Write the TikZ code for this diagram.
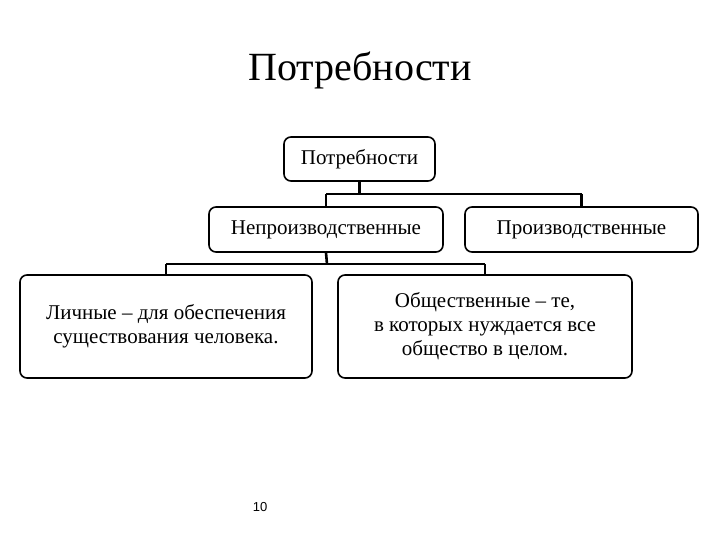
\documentclass[tikz,border=0pt]{standalone}
\usepackage{fontspec}
\setmainfont{Liberation Serif}
\newfontfamily\sansf{Liberation Sans}
\begin{document}
\begin{tikzpicture}[x=1pt,y=-1pt,
  bx/.style={draw,line width=1.6pt,rounded corners=7pt,align=center,font=\fontsize{21}{24}\selectfont,inner sep=0pt},
  ln/.style={line width=2.6pt}]
\useasboundingbox (0,0) rectangle (720,540);
\node[font=\fontsize{40}{44}\selectfont] (t) at (360,70) {Потребности};
\node[bx,minimum width=151pt,minimum height=44pt] (a) at (359.5,159) {Потребности};
\node[bx,minimum width=234pt,minimum height=45pt] (b) at (326,229.5) {Непроизводственные};
\node[bx,minimum width=233pt,minimum height=45pt] (c) at (581.5,229.5) {Производственные};
\node[bx,minimum width=292pt,minimum height=103pt] (d) at (166,326.5) {Личные -- для обеспечения\\существования человека.};
\node[bx,minimum width=294pt,minimum height=103pt] (e) at (485,326.5) {Общественные -- те,\\в которых нуждается все\\общество в целом.};
\coordinate (j1) at (359.5,194);
\coordinate (j2) at (327,264);
\draw[ln] (a.south) -- (j1);
\draw[ln] (b.north |- j1) -- (c.north |- j1);
\draw[ln] (b.north |- j1) -- (b.north);
\draw[ln] (c.north |- j1) -- (c.north);
\draw[ln] (b.south) -- (j2);
\draw[ln] (d.north |- j2) -- (e.north |- j2);
\draw[ln] (d.north |- j2) -- (d.north);
\draw[ln] (e.north |- j2) -- (e.north);
\node[font=\sansf\fontsize{13}{15}\selectfont] (p) at (260,507) {10};
\end{tikzpicture}
\end{document}
